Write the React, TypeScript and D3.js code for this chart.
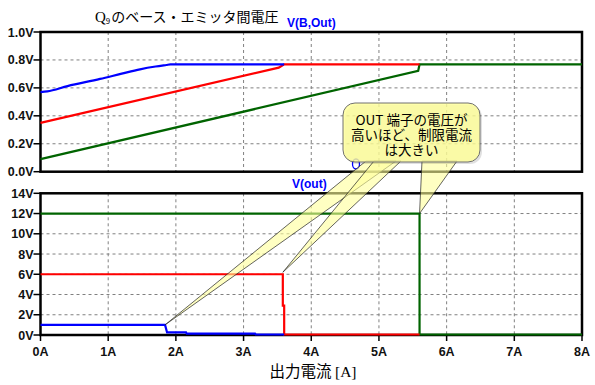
import React from "react";
import * as d3 from "d3";

// ---- data ----
const xTicks = [0, 1, 2, 3, 4, 5, 6, 7, 8];
const xTickLabels = ["0A", "1A", "2A", "3A", "4A", "5A", "6A", "7A", "8A"];
const topTicks = [0, 0.2, 0.4, 0.6, 0.8, 1.0];
const topTickLabels = ["0.0V", "0.2V", "0.4V", "0.6V", "0.8V", "1.0V"];
const botTicks = [0, 2, 4, 6, 8, 10, 12, 14];
const botTickLabels = ["0V", "2V", "4V", "6V", "8V", "10V", "12V", "14V"];

// V(B,Out) [A, V]
const vbeBlue: [number, number][] = [[0, 0.57], [0.1, 0.575], [0.4, 0.613], [0.88, 0.664], [1.2, 0.702], [1.47, 0.733], [1.7, 0.753], [1.86, 0.764], [1.92, 0.768], [3.6, 0.768]];
const vbeRed: [number, number][] = [[0, 0.35], [3.52, 0.745], [3.6, 0.768], [5.6, 0.768]];
const vbeGreen: [number, number][] = [[0, 0.09], [5.58, 0.722], [5.6, 0.768], [8, 0.768]];

// V(out) [A, V]
const voutBlue: [number, number][] = [[0, 1], [1.84, 1], [1.87, 0.25], [2.15, 0.25], [2.16, 0.13], [3.17, 0.13], [3.18, 0.05], [3.6, 0.05]];
const voutRed: [number, number][] = [[0, 6], [3.58, 6], [3.58, 2.9], [3.6, 2.9], [3.6, 0.05], [5.6, 0.05]];
const voutGreen: [number, number][] = [[0, 12], [5.6, 12], [5.6, 0.05], [8, 0.05]];

const titleMain = "のベース・エミッタ間電圧";
const topSeriesLabel = "V(B,Out)";
const botSeriesLabel = "V(out)";
const calloutLines = ["OUT 端子の電圧が", "高いほど、制限電流", "は大きい"];

const BLUE = "#0000ff";
const RED = "#ff0000";
const GREEN = "#006400";

export default function App() {
  const W = 595, H = 385;
  const left = 40.5, right = 582;
  const x = d3.scaleLinear().domain([0, 8]).range([left, right]);
  const yTop = d3.scaleLinear().domain([0, 1]).range([171.7, 32]);
  const yBot = d3.scaleLinear().domain([0, 14]).range([335, 193.3]);

  const lineTop = d3.line<[number, number]>().x(d => x(d[0])).y(d => yTop(d[1]));
  const lineTopSmooth = d3.line<[number, number]>().x(d => x(d[0])).y(d => yTop(d[1])).curve(d3.curveMonotoneX);
  const lineBot = d3.line<[number, number]>().x(d => x(d[0])).y(d => yBot(d[1]));

  const tickFont = "'Liberation Sans', Arial, sans-serif";
  const cjk = "'Noto Sans CJK JP', sans-serif";

  const grid = (y: d3.ScaleLinear<number, number>, ticks: number[]) => (
    <g stroke="#808080" strokeWidth={1} strokeDasharray="3,3">
      {xTicks.slice(1, -1).map(t => (
        <line key={"v" + t} x1={x(t)} x2={x(t)} y1={y.range()[1]} y2={y.range()[0]} />
      ))}
      {ticks.slice(1, -1).map(t => (
        <line key={"h" + t} x1={left} x2={right} y1={y(t)} y2={y(t)} />
      ))}
    </g>
  );

  const yAxis = (y: d3.ScaleLinear<number, number>, ticks: number[], labels: string[]) => (
    <g>
      {ticks.map((t, i) => (
        <g key={t}>
          <line x1={left - 7} x2={left} y1={y(t)} y2={y(t)} stroke="#000" strokeWidth={1.5} />
          <text x={left - 7} y={y(t) + 4.5} textAnchor="end" fontFamily={tickFont} fontWeight="bold" fontSize={12.5} fill="#111">{labels[i]}</text>
        </g>
      ))}
    </g>
  );

  const box = (y: d3.ScaleLinear<number, number>) => (
    <rect x={left} y={y.range()[1]} width={right - left} height={y.range()[0] - y.range()[1]} fill="none" stroke="#000" strokeWidth={2.5} />
  );

  // callout geometry
  const boxX = 343, boxY = 103, boxW = 137, boxH = 59;
  const tip1: [number, number] = [x(1.84), yBot(1)];
  const tip2: [number, number] = [x(3.58), yBot(6) - 2];
  const tip3: [number, number] = [x(5.6), yBot(12)];
  const wedges: [number, number][][] = [
    [tip1, [366, 161], [396, 161]],
    [tip2, [374, 161], [401, 161]],
    [tip3, [422, 161], [457, 161]],
  ];

  return (
    <svg width={W} height={H} style={{ position: "absolute", left: 0, top: 0, background: "#fff" }}>
      <rect x={0} y={0} width={W} height={H} fill="#fff" />
      {grid(yTop, topTicks)}
      {grid(yBot, botTicks)}
      {box(yTop)}
      {box(yBot)}
      {yAxis(yTop, topTicks, topTickLabels)}
      {yAxis(yBot, botTicks, botTickLabels)}
      {xTicks.map((t, i) => (
        <g key={t}>
          <line x1={x(t)} x2={x(t)} y1={335} y2={341} stroke="#000" strokeWidth={1.5} />
          <text x={x(t)} y={356} textAnchor="middle" fontFamily={tickFont} fontWeight="bold" fontSize={12.5} fill="#111">{xTickLabels[i]}</text>
        </g>
      ))}

      <g fill="none" strokeWidth={2.2} strokeLinejoin="miter">
        <path d={lineTop(vbeGreen) || ""} stroke={GREEN} />
        <path d={lineTop(vbeRed) || ""} stroke={RED} />
        <path d={lineTopSmooth(vbeBlue) || ""} stroke={BLUE} />
        <path d={lineBot(voutGreen) || ""} stroke={GREEN} />
        <path d={lineBot(voutRed) || ""} stroke={RED} />
        <path d={lineBot(voutBlue) || ""} stroke={BLUE} />
      </g>

      {/* titles */}
      <text x={95} y={22} fontFamily={cjk} fontSize={14} fill="#000">
        <tspan fontFamily="'Liberation Serif', serif" fontSize={15}>Q</tspan>
        <tspan fontSize={8} dy={2}>9</tspan>
        <tspan dy={-2} dx={1}>{titleMain}</tspan>
      </text>
      <text x={287} y={27} fontFamily={tickFont} fontWeight="bold" fontSize={12} fill={BLUE}>{topSeriesLabel}</text>
      <text x={292} y={188} fontFamily={tickFont} fontWeight="bold" fontSize={12} fill={BLUE}>{botSeriesLabel}</text>
      <text x={313} y={376.5} textAnchor="middle" fontFamily={cjk} fontSize={15.5} fill="#000">
        出力電流 <tspan fontFamily="'Liberation Serif', serif">[A]</tspan>
      </text>

      {/* callout */}
      <ellipse cx={356} cy={164} rx={3.5} ry={5} fill="none" stroke={BLUE} strokeWidth={1.3} />
      <g>
        {wedges.map((w, i) => (
          <polygon key={i} points={w.map(p => p.join(",")).join(" ")} fill="#ffff9a" fillOpacity={0.6} stroke="#222" strokeWidth={0.7} />
        ))}
      </g>
      <rect x={boxX + 2} y={boxY + 2} width={boxW} height={boxH} rx={12} fill="#000" fillOpacity={0.12} />
      <rect x={boxX} y={boxY} width={boxW} height={boxH} rx={12} fill="#ffff99" fillOpacity={0.82} stroke="#707070" strokeWidth={1} />
      <text textAnchor="middle" fontFamily={cjk} fontSize={13.5} fill="#000">
        {calloutLines.map((s, i) => (
          <tspan key={i} x={boxX + boxW / 2} y={boxY + 22 + i * 15}>{s}</tspan>
        ))}
      </text>
    </svg>
  );
}
